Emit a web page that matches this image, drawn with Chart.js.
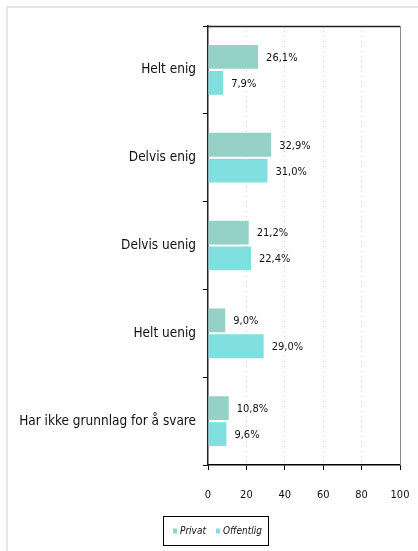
<!DOCTYPE html>
<html>
<head>
<meta charset="utf-8">
<script src="https://cdn.jsdelivr.net/npm/chart.js@4"></script>
<style>
  html, body { margin: 0; padding: 0; background: #fff; }
  canvas { display: block; }
</style>
</head>
<body>
<canvas id="chart" width="418" height="551" style="width:418px;height:551px"></canvas>
<script>
// Svarfordeling, privat og offentlig sektor (prosent)
const kategorier = ['Helt enig', 'Delvis enig', 'Delvis uenig', 'Helt uenig', 'Har ikke grunnlag for å svare'];
const privat = [26.1, 32.9, 21.2, 9.0, 10.8];
const offentlig = [7.9, 31.0, 22.4, 29.0, 9.6];
const xTicks = [0, 20, 40, 60, 80, 100];

const FONT = "'DejaVu Sans Condensed', 'DejaVu Sans', sans-serif";

function prosent(v) {
    return v.toFixed(1).replace('.', ',') + '%';
}

// ramme, verdietiketter og forklaring
const tegnePlugin = {
    id: 'tegne',
    beforeDraw(chart) {
        const ctx = chart.ctx;
        ctx.save();
        ctx.fillStyle = '#e6e6e6';
        ctx.fillRect(6, 6, chart.width - 6, 2);
        ctx.fillRect(6, 6, 2, chart.height - 6);
        ctx.restore();
    },
    afterDraw(chart) {
        const ctx = chart.ctx;
        const a = chart.chartArea;
        ctx.save();
        // topp og høyre kant på plottet
        ctx.strokeStyle = '#222';
        ctx.lineWidth = 1.5;
        ctx.beginPath();
        ctx.moveTo(a.left, a.top + 0.5);
        ctx.lineTo(a.right, a.top + 0.5);
        ctx.stroke();
        ctx.strokeStyle = '#8a8a8a';
        ctx.lineWidth = 1;
        ctx.beginPath();
        ctx.moveTo(a.right + 0.5, a.top);
        ctx.lineTo(a.right + 0.5, a.bottom);
        ctx.stroke();

        // verdier ved søylene
        ctx.font = '11px ' + FONT;
        ctx.fillStyle = '#111';
        ctx.textAlign = 'left';
        ctx.textBaseline = 'middle';
        chart.data.datasets.forEach((ds, i) => {
            chart.getDatasetMeta(i).data.forEach((bar, j) => {
                ctx.fillText(prosent(ds.data[j]), bar.x + 8, bar.y + 1);
            });
        });

        // forklaring med ramme
        const bx = 163, by = 516, bw = 105, bh = 29;
        ctx.strokeStyle = '#000';
        ctx.lineWidth = 1;
        ctx.strokeRect(bx + 0.5, by + 0.5, bw, bh);
        ctx.font = 'italic 10px ' + FONT;
        let x = bx + 10;
        const y = by + bh / 2 + 1;
        chart.data.datasets.forEach(ds => {
            ctx.fillStyle = ds.backgroundColor;
            ctx.fillRect(x, y - 3, 4, 5);
            x += 7;
            ctx.fillStyle = '#111';
            ctx.fillText(ds.label, x, y);
            x += ctx.measureText(ds.label).width + 10;
        });
        ctx.restore();
    }
};

new Chart(document.getElementById('chart').getContext('2d'), {
    type: 'bar',
    data: {
        labels: kategorier,
        datasets: [
            {
                label: 'Privat',
                data: privat,
                backgroundColor: '#95d1c6',
                barPercentage: 0.92,
                categoryPercentage: 0.59
            },
            {
                label: 'Offentlig',
                data: offentlig,
                backgroundColor: '#80e0e0',
                barPercentage: 0.92,
                categoryPercentage: 0.59
            }
        ]
    },
    options: {
        indexAxis: 'y',
        responsive: false,
        animation: false,
        layout: { padding: { left: 0, right: 18, top: 26, bottom: 0 } },
        scales: {
            x: {
                min: 0,
                max: 100,
                afterBuildTicks: scale => { scale.ticks = xTicks.map(v => ({ value: v })); },
                afterFit: scale => {
                    scale.height = 86;
                    scale.paddingLeft = 0;
                    scale.paddingRight = 0;
                },
                ticks: {
                    font: { family: FONT, size: 11 },
                    color: '#111',
                    padding: 19,
                    maxRotation: 0
                },
                grid: {
                    color: c => (c.tick && (c.tick.value === 0 || c.tick.value === 100)) ? 'rgba(0,0,0,0)' : '#d0d0d0',
                    tickColor: '#000',
                    tickLength: 5,
                    tickWidth: 1
                },
                border: { color: '#000', width: 1.5, dash: [1, 4] }
            },
            y: {
                afterFit: scale => {
                    scale.width = 208;
                    scale.paddingTop = 0;
                    scale.paddingBottom = 0;
                },
                ticks: {
                    font: { family: FONT, size: 13.5 },
                    color: '#111',
                    padding: 7
                },
                grid: {
                    drawOnChartArea: false,
                    offset: true,
                    tickColor: '#000',
                    tickLength: 5,
                    tickWidth: 1
                },
                border: { color: '#222', width: 1.5 }
            }
        },
        plugins: {
            legend: { display: false },
            tooltip: { enabled: false }
        }
    },
    plugins: [tegnePlugin]
});
</script>
</body>
</html>
